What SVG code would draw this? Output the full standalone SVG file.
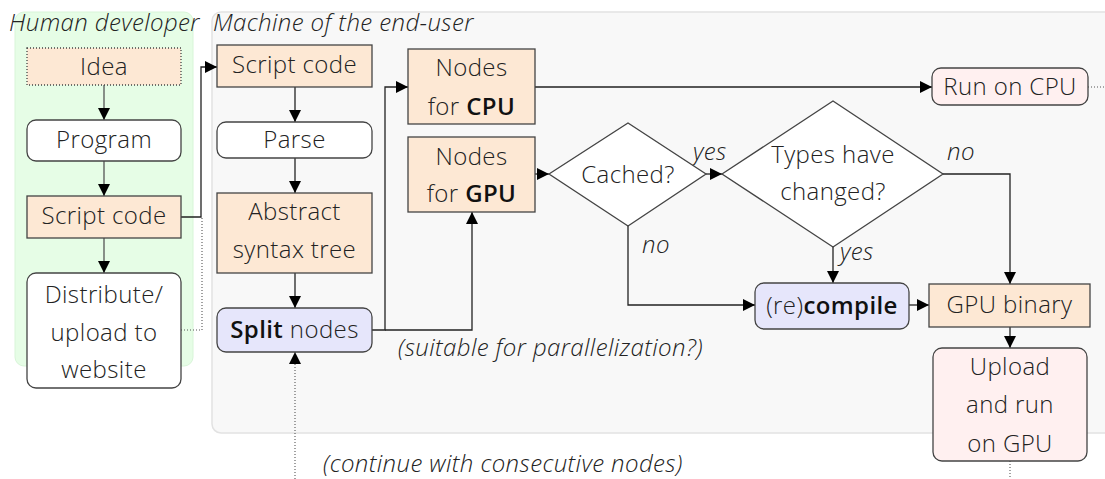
<svg xmlns="http://www.w3.org/2000/svg" width="1105" height="479" viewBox="0 0 1105 479">
<style>
text{font-family:"Open Sans","Noto Sans","DejaVu Sans",sans-serif;font-size:24px;letter-spacing:0.4px;font-weight:300;fill:#222}
.c{text-anchor:middle}
.i{font-style:italic}
.b{font-weight:600;fill:#111}
.peach{fill:#fde8d4;stroke:#444;stroke-width:1.3}
.white{fill:#fff;stroke:#444;stroke-width:1.3}
.lav{fill:#e6e6fb;stroke:#444;stroke-width:1.3}
.pink{fill:#fff0f0;stroke:#444;stroke-width:1.3}
.ln{fill:none;stroke:#222;stroke-width:1.3}
.lg{fill:none;stroke:#555;stroke-width:1.3}
.dot{fill:none;stroke:#555;stroke-width:1.1;stroke-dasharray:1 2}
</style>
<defs>
<marker id="ah" viewBox="0 0 12 12" refX="12" refY="6" markerWidth="12" markerHeight="12" markerUnits="userSpaceOnUse" orient="auto">
<path d="M0,0 L12,6 L0,12 z" fill="#000"/>
</marker>
</defs>

<g id="panel-human">
<rect x="15" y="12" width="178" height="354" rx="9" fill="#e6fde6" stroke="#d8f5d8" stroke-width="1"/>
<text class="i" x="9" y="31">Human developer</text>
</g>
<g id="panel-machine">
<rect x="212" y="12" width="910" height="421" rx="9" fill="#f8f8f8" stroke="#e2e2e2" stroke-width="1.5"/>
<text class="i" x="213" y="31">Machine of the end-user</text>
</g>

<g id="connectors">
<path class="lg" d="M104,85 V120" marker-end="url(#ah)"/>
<path class="lg" d="M104,161 V196" marker-end="url(#ah)"/>
<path class="lg" d="M104,238 V273" marker-end="url(#ah)"/>
<path class="ln" d="M181,217 H201 V67 H217" marker-end="url(#ah)"/>
<path class="dot" d="M181,330 H202 V218"/>
<path class="ln" d="M295,87 V122" marker-end="url(#ah)"/>
<path class="ln" d="M295,158 V193" marker-end="url(#ah)"/>
<path class="ln" d="M295,273 V308" marker-end="url(#ah)"/>
<path class="ln" d="M372,330 H385 V87 H408" marker-end="url(#ah)"/>
<path class="ln" d="M385,330 H472 V212" marker-end="url(#ah)"/>
<path class="ln" d="M535,87 H932" marker-end="url(#ah)"/>
<path class="dot" d="M1088,87 H1105"/>
<path class="ln" d="M535,174 H549" marker-end="url(#ah)"/>
<path class="ln" d="M706,174 H722" marker-end="url(#ah)"/>
<path class="ln" d="M628,226 V305 H755" marker-end="url(#ah)"/>
<path class="ln" d="M833,247 V283" marker-end="url(#ah)"/>
<path class="ln" d="M943,174 H1010 V284" marker-end="url(#ah)"/>
<path class="ln" d="M909,305 H929" marker-end="url(#ah)"/>
<path class="ln" d="M1010,327 V348" marker-end="url(#ah)"/>
<path class="dot" d="M1010,461 V479"/>
<path class="dot" d="M295,479 V352" marker-end="url(#ah)"/>
<text class="i" x="693" y="160">yes</text>
<text class="i" x="947" y="160">no</text>
<text class="i" x="840" y="260">yes</text>
<text class="i" x="642" y="253">no</text>
<text class="i" x="398" y="356">(suitable for parallelization?)</text>
<text class="i" x="323" y="472">(continue with consecutive nodes)</text>
</g>

<g id="idea">
<rect class="peach" x="27" y="48" width="154" height="37" style="stroke-dasharray:1 2"/>
<text class="c" x="104" y="75">Idea</text>
</g>
<g id="program">
<rect class="white" x="27" y="120" width="154" height="41" rx="9"/>
<text class="c" x="104" y="148">Program</text>
</g>
<g id="script-code-dev">
<rect class="peach" x="27" y="196" width="154" height="42"/>
<text class="c" x="104" y="224">Script code</text>
</g>
<g id="distribute">
<rect class="white" x="27" y="273" width="154" height="115" rx="9"/>
<text class="c" x="104" y="303">Distribute/</text>
<text class="c" x="104" y="341">upload to</text>
<text class="c" x="104" y="378">website</text>
</g>

<g id="script-code-user">
<rect class="peach" x="217" y="45" width="155" height="42"/>
<text class="c" x="294.5" y="73">Script code</text>
</g>
<g id="parse">
<rect class="white" x="217" y="122" width="155" height="36" rx="9"/>
<text class="c" x="294.5" y="148">Parse</text>
</g>
<g id="ast">
<rect class="peach" x="217" y="193" width="155" height="80"/>
<text class="c" x="294.5" y="220">Abstract</text>
<text class="c" x="294.5" y="258">syntax tree</text>
</g>
<g id="split">
<rect class="lav" x="217" y="308" width="155" height="44" rx="9"/>
<text class="c" x="294.5" y="338"><tspan class="b">Split</tspan> nodes</text>
</g>
<g id="nodes-cpu">
<rect class="peach" x="408" y="49" width="127" height="75"/>
<text class="c" x="471.5" y="76">Nodes</text>
<text class="c" x="471.5" y="115">for <tspan class="b">CPU</tspan></text>
</g>
<g id="nodes-gpu">
<rect class="peach" x="408" y="137" width="127" height="75"/>
<text class="c" x="471.5" y="165">Nodes</text>
<text class="c" x="471.5" y="202">for <tspan class="b">GPU</tspan></text>
</g>
<g id="cached">
<polygon class="white" points="549,174 628,123 706,174 628,226"/>
<text class="c" x="628" y="183">Cached?</text>
</g>
<g id="types-changed">
<polygon class="white" points="722,174 833,101 943,174 833,247"/>
<text class="c" x="833" y="163">Types have</text>
<text class="c" x="833" y="200">changed?</text>
</g>
<g id="recompile">
<rect class="lav" x="755" y="283" width="154" height="46" rx="9"/>
<text class="c" x="832" y="314">(re)<tspan class="b">compile</tspan></text>
</g>
<g id="gpu-binary">
<rect class="peach" x="929" y="284" width="161" height="43"/>
<text class="c" x="1009.5" y="313">GPU binary</text>
</g>
<g id="upload-run-gpu">
<rect class="pink" x="933" y="348" width="154" height="113" rx="9"/>
<text class="c" x="1010" y="375">Upload</text>
<text class="c" x="1010" y="413">and run</text>
<text class="c" x="1010" y="452">on GPU</text>
</g>
<g id="run-cpu">
<rect class="pink" x="932" y="68" width="156" height="37" rx="9"/>
<text class="c" x="1010" y="95">Run on CPU</text>
</g>
</svg>
